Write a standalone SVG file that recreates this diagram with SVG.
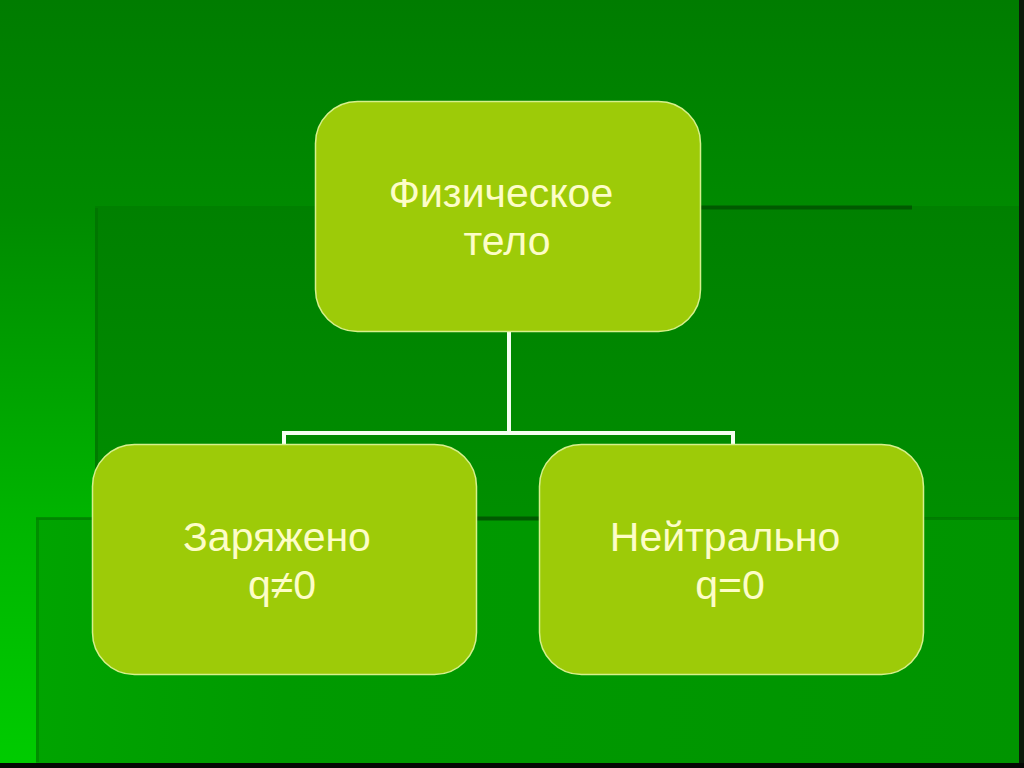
<svg xmlns="http://www.w3.org/2000/svg" width="1024" height="768" viewBox="0 0 1024 768">
<defs>
<linearGradient id="bg" x1="0" y1="0" x2="0" y2="1">
<stop offset="0" stop-color="#007c00"/>
<stop offset="0.27" stop-color="#008a00"/>
<stop offset="0.67" stop-color="#00b400"/>
<stop offset="1" stop-color="#00cc00"/>
</linearGradient>
<linearGradient id="ra" x1="0" y1="0" x2="0" y2="1">
<stop offset="0" stop-color="#008000"/>
<stop offset="1" stop-color="#009a00"/>
</linearGradient>
<linearGradient id="rb" x1="0" y1="0" x2="1" y2="0">
<stop offset="0" stop-color="#00a400"/>
<stop offset="0.25" stop-color="#009a00"/>
<stop offset="1" stop-color="#009400"/>
</linearGradient>
</defs>
<style>
.node{fill:#9dcb08;stroke:#d6f08c;stroke-width:1.5}
.lbl{font-family:"Liberation Sans",Arial,sans-serif;font-size:41px;fill:#fdfdc8;text-anchor:middle}
.con{stroke:#f4fff0;stroke-width:4;fill:none}
</style>
<g id="background">
<rect x="0" y="0" width="1024" height="768" fill="url(#bg)"/>
<rect x="95" y="206" width="929" height="562" fill="url(#ra)"/>
<line x1="96.5" y1="208" x2="96.5" y2="518" stroke="#007000" stroke-width="3" opacity="0.6"/>
<line x1="700" y1="207.5" x2="912" y2="207.5" stroke="#005a00" stroke-width="4"/>
<rect x="36" y="518" width="988" height="250" fill="url(#rb)"/>
<line x1="37.5" y1="520" x2="37.5" y2="762" stroke="#008000" stroke-width="3" opacity="0.6"/>
<line x1="36" y1="518.5" x2="1024" y2="518.5" stroke="#006a00" stroke-width="3" opacity="0.5"/>
<line x1="476" y1="518.5" x2="540" y2="518.5" stroke="#005a00" stroke-width="4"/>
<rect x="1019" y="0" width="5" height="768" fill="#0a1a0a"/>
<rect x="0" y="763" width="1024" height="5" fill="#050805"/>
</g>
<g id="connectors">
<path class="con" d="M509 331 V433"/>
<path class="con" d="M284 444 V433 H733 V444"/>
</g>
<g id="node-top">
<rect class="node" x="315.5" y="101.5" width="385" height="230" rx="42"/>
<text class="lbl" x="501" y="207">Физическое</text>
<text class="lbl" x="507" y="255">тело</text>
</g>
<g id="node-left">
<rect class="node" x="92.5" y="444.5" width="384" height="230" rx="42"/>
<text class="lbl" x="277" y="551">Заряжено</text>
<text class="lbl" x="282" y="599">q≠0</text>
</g>
<g id="node-right">
<rect class="node" x="539.5" y="444.5" width="384" height="230" rx="42"/>
<text class="lbl" x="725" y="551">Нейтрально</text>
<text class="lbl" x="730" y="599">q=0</text>
</g>
</svg>
